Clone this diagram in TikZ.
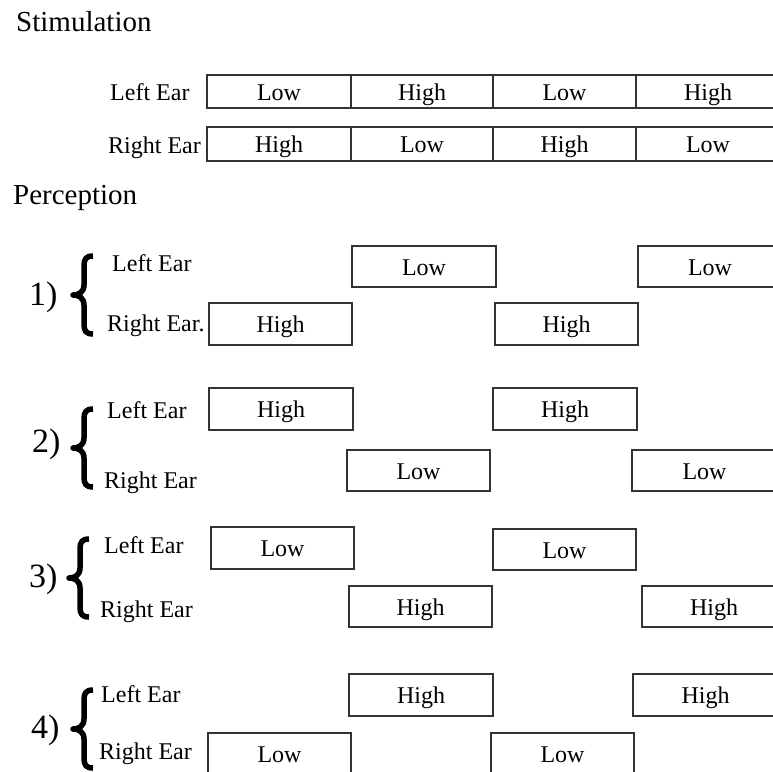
\documentclass[tikz,border=0pt]{standalone}
\usepackage{fontspec}
\setmainfont{Liberation Serif}
\newcommand\cbox[6]{\node[cell, minimum width={#4-#2}, minimum height={#5-#3}] (#1) at ({(#2+#4)/2},{(#3+#5)/2}) {#6};}
\begin{document}
\begin{tikzpicture}[x=1pt,y=-1pt,
 cell/.style={draw=black!80, line width=1.1pt, rectangle, inner sep=0pt, text height=17pt, text depth=0pt, font=\fontsize{24}{28}\selectfont},
 lab/.style={anchor=base west, inner sep=0pt, font=\fontsize{24}{28}\selectfont},
 ttl/.style={anchor=base west, inner sep=0pt, font=\fontsize{29}{34}\selectfont},
 num/.style={anchor=base west, inner sep=0pt, font=\fontsize{34}{40}\selectfont},
 bracestroke/.style={line width=5.5pt, line join=round},
 curlyb/.pic={
  \draw[bracestroke] (21,3) .. controls (14,3) and (12,6) .. (12,13) -- (12,32)
    .. controls (12,39) and (7,42) .. (1,42)
    .. controls (7,42) and (12,45) .. (12,52) -- (12,71)
    .. controls (12,78) and (14,81) .. (21,81);
 }]
\useasboundingbox (0,0) rectangle (773,771);
% Stimulation
\node[ttl] (stim) at (16,31) {Stimulation};
\node[lab] (sl) at (110,100) {Left Ear};
\node[lab] (sr) at (108,153) {Right Ear};
\cbox{s11}{207}{75}{351}{108}{Low}
\cbox{s12}{351}{75}{493}{108}{High}
\cbox{s13}{493}{75}{636}{108}{Low}
\cbox{s14}{636}{75}{780}{108}{High}
\cbox{s21}{207}{127}{351}{161}{High}
\cbox{s22}{351}{127}{493}{161}{Low}
\cbox{s23}{493}{127}{636}{161}{High}
\cbox{s24}{636}{127}{780}{161}{Low}
% Perception
\node[ttl] (perc) at (13,204) {Perception};
% group 1
\node[num] (n1) at (29,305) {1)};
\pic at (72,253) {curlyb};
\node[lab] (l1) at (112,271) {Left Ear};
\node[lab] (r1) at (107,331) {Right Ear.};
\cbox{g1a}{209}{303}{352}{345}{High}
\cbox{g1b}{352}{246}{496}{287}{Low}
\cbox{g1c}{495}{303}{638}{345}{High}
\cbox{g1d}{638}{246}{782}{287}{Low}
% group 2
\node[num] (n2) at (32,452) {2)};
\pic at (72,406) {curlyb};
\node[lab] (l2) at (107,418) {Left Ear};
\node[lab] (r2) at (104,488) {Right Ear};
\cbox{g2a}{209}{388}{353}{430}{High}
\cbox{g2b}{347}{450}{490}{491}{Low}
\cbox{g2c}{493}{388}{637}{430}{High}
\cbox{g2d}{632}{450}{777}{491}{Low}
% group 3
\node[num] (n3) at (29,587) {3)};
\pic at (68,536) {curlyb};
\node[lab] (l3) at (104,553) {Left Ear};
\node[lab] (r3) at (100,617) {Right Ear};
\cbox{g3a}{211}{527}{354}{569}{Low}
\cbox{g3b}{349}{586}{492}{627}{High}
\cbox{g3c}{493}{529}{636}{570}{Low}
\cbox{g3d}{642}{586}{786}{627}{High}
% group 4
\node[num] (n4) at (31,738) {4)};
\pic at (72,687) {curlyb};
\node[lab] (l4) at (101,702) {Left Ear};
\node[lab] (r4) at (99,759) {Right Ear};
\cbox{g4a}{208}{733}{351}{775}{Low}
\cbox{g4b}{349}{674}{493}{716}{High}
\cbox{g4c}{491}{733}{634}{775}{Low}
\cbox{g4d}{633}{674}{778}{716}{High}
\end{tikzpicture}
\end{document}
